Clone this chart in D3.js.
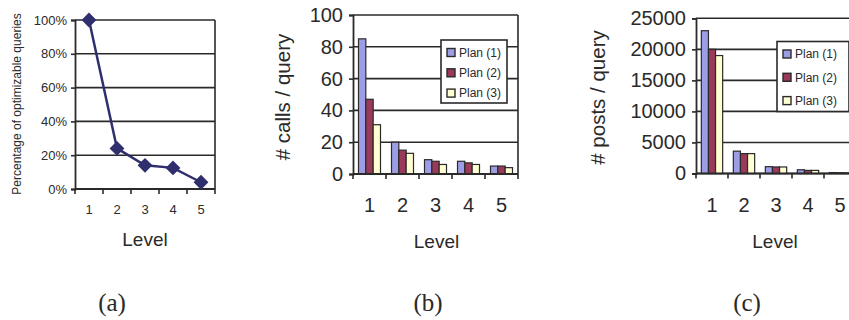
<!DOCTYPE html>
<html>
<head>
<meta charset="utf-8">
<script src="https://cdn.jsdelivr.net/npm/d3@7"></script>
<style>
  body { margin: 0; background: #fff; }
  svg { display: block; font-family: "Liberation Sans", Arial, sans-serif; }
</style>
</head>
<body>
<svg id="chart" width="849" height="320"></svg>
<script>
// data
const levels = ["1", "2", "3", "4", "5"];
const pctOptimizable = [100, 24, 14, 12.5, 4];
const pctTicks = [0, 20, 40, 60, 80, 100];

const plans = ["Plan (1)", "Plan (2)", "Plan (3)"];
const callsPlan1 = [85, 20, 9, 8, 5];
const callsPlan2 = [47, 15, 8, 7, 5];
const callsPlan3 = [31, 13, 6, 6, 4];
const callsTicks = [0, 20, 40, 60, 80, 100];

const postsPlan1 = [23000, 3600, 1100, 600, 150];
const postsPlan2 = [20000, 3200, 1050, 500, 120];
const postsPlan3 = [19000, 3200, 1050, 500, 100];
const postsTicks = [0, 5000, 10000, 15000, 20000, 25000];

const captions = ["(a)", "(b)", "(c)"];
const planColors = ["#9d9de6", "#9b3a58", "#ffffd2"];
const ink = "#2a2a2a";

const svg = d3.select("#chart");

function frame(g, x0, x1, y, ticks, fmt, fontSize, labelGap) {
  // gridlines + top/right frame
  g.selectAll(".grid").data(ticks).enter().append("line")
    .attr("x1", x0).attr("x2", x1)
    .attr("y1", d => y(d)).attr("y2", d => y(d))
    .attr("stroke", ink).attr("stroke-width", 1.6);
  g.append("line").attr("x1", x1).attr("x2", x1)
    .attr("y1", y(ticks[ticks.length - 1])).attr("y2", y(0))
    .attr("stroke", ink).attr("stroke-width", 1.6);
  const ax = g.append("g").attr("transform", `translate(${x0},0)`)
    .call(d3.axisLeft(y).tickValues(ticks).tickFormat(fmt).tickSizeOuter(0).tickSize(4).tickPadding(labelGap));
  ax.select(".domain").attr("stroke", ink).attr("stroke-width", 1.8);
  ax.selectAll(".tick line").attr("stroke", ink).attr("stroke-width", 1.6);
  ax.selectAll("text").attr("font-size", fontSize).attr("font-family", null).attr("fill", ink);
}

function xAxis(g, x0, x1, y0, fontSize, labelY) {
  const xb = d3.scaleBand().domain(levels).range([x0, x1]);
  g.append("line").attr("x1", x0).attr("x2", x1).attr("y1", y0).attr("y2", y0)
    .attr("stroke", ink).attr("stroke-width", 1.8);
  g.selectAll(".xt").data(levels.concat(["end"])).enter().append("line")
    .attr("x1", (d, i) => x0 + i * xb.step()).attr("x2", (d, i) => x0 + i * xb.step())
    .attr("y1", y0).attr("y2", y0 + 5)
    .attr("stroke", ink).attr("stroke-width", 1.6);
  g.selectAll(".xl").data(levels).enter().append("text")
    .attr("x", d => xb(d) + xb.bandwidth() / 2).attr("y", labelY)
    .attr("text-anchor", "middle").attr("font-size", fontSize).attr("fill", ink)
    .text(d => d);
  return xb;
}

function titles(g, yLabel, yLabelSize, yx, yy, levelX, levelY) {
  g.append("text").attr("transform", `translate(${yx},${yy}) rotate(-90)`)
    .attr("text-anchor", "middle").attr("font-size", yLabelSize).attr("fill", ink)
    .text(yLabel);
  g.append("text").attr("x", levelX).attr("y", levelY)
    .attr("text-anchor", "middle").attr("font-size", 19).attr("fill", ink)
    .text("Level");
}

// (a) line chart
{
  const g = svg.append("g");
  const x0 = 75, x1 = 215;
  const y = d3.scaleLinear().domain([0, 100]).range([189, 20]);
  frame(g, x0, x1, y, pctTicks, d => d + "%", 13, 4);
  const xb = xAxis(g, x0, x1, 189, 13, 214);
  const px = d => xb(d) + xb.bandwidth() / 2;
  const pts = levels.map((l, i) => [px(l), y(pctOptimizable[i])]);
  g.append("path").attr("d", d3.line()(pts))
    .attr("fill", "none").attr("stroke", "#2f2f6e").attr("stroke-width", 2.5);
  g.selectAll(".mk").data(pts).enter().append("path")
    .attr("d", d3.symbol().type(d3.symbolSquare).size(110))
    .attr("transform", d => `translate(${d[0]},${d[1]}) rotate(45)`)
    .attr("fill", "#2f2f6e");
  titles(g, "Percentage of optimizable queries", 12, 21, 104, 145, 246);
}

function barChart(x0, x1, y0, y1, maxV, ticks, series, yLabel, yx, yy, levelX, legendBox, rowGap) {
  const g = svg.append("g");
  const y = d3.scaleLinear().domain([0, maxV]).range([y0, y1]);
  const xg = d3.scaleBand().domain(levels).range([x0, x1]).paddingInner(1 / 3).paddingOuter(1 / 6);
  const xp = d3.scaleBand().domain(plans).range([0, xg.bandwidth()]);
  frame(g, x0, x1, y, ticks, d => d, 20, 6);
  plans.forEach((p, si) => {
    g.selectAll(".b" + si).data(series[si]).enter().append("rect")
      .attr("x", (d, i) => xg(levels[i]) + xp(p))
      .attr("y", d => y(d))
      .attr("width", xp.bandwidth())
      .attr("height", d => y0 - y(d))
      .attr("fill", planColors[si]).attr("stroke", ink).attr("stroke-width", 1.2);
  });
  xAxis(g, x0, x1, y0, 20, y0 + 38);
  titles(g, yLabel, 20.5, yx, yy, levelX, y0 + 74);
  // legend
  const lg = g.append("g");
  lg.append("rect").attr("x", legendBox[0]).attr("y", legendBox[1])
    .attr("width", legendBox[2]).attr("height", legendBox[3])
    .attr("fill", "#fff").attr("stroke", ink).attr("stroke-width", 1.6);
  plans.forEach((p, i) => {
    const cy = legendBox[1] + 12.5 + i * rowGap;
    lg.append("rect").attr("x", legendBox[0] + 6).attr("y", cy - 4)
      .attr("width", 8).attr("height", 8)
      .attr("fill", planColors[i]).attr("stroke", ink).attr("stroke-width", 1.4);
    lg.append("text").attr("x", legendBox[0] + 18).attr("y", cy + 4.3)
      .attr("font-size", 12).attr("fill", ink).text(p);
  });
}

// (b)
barChart(353, 518, 174, 15, 100, callsTicks, [callsPlan1, callsPlan2, callsPlan3],
  "# calls / query", 290, 97, 436.5, [441, 40, 66, 63], 20.3);

// (c)
barChart(696, 856, 173.5, 18.3, 25000, postsTicks, [postsPlan1, postsPlan2, postsPlan3],
  "# posts / query", 605, 97.5, 775, [777, 41.5, 72, 70], 23.3);

// captions
svg.selectAll(".cap").data(captions).enter().append("text")
  .attr("x", (d, i) => [112, 428, 747][i]).attr("y", 311)
  .attr("text-anchor", "middle")
  .attr("font-family", "'Liberation Serif', 'Times New Roman', serif")
  .attr("font-size", 25).attr("fill", ink)
  .text(d => d);
</script>
</body>
</html>
